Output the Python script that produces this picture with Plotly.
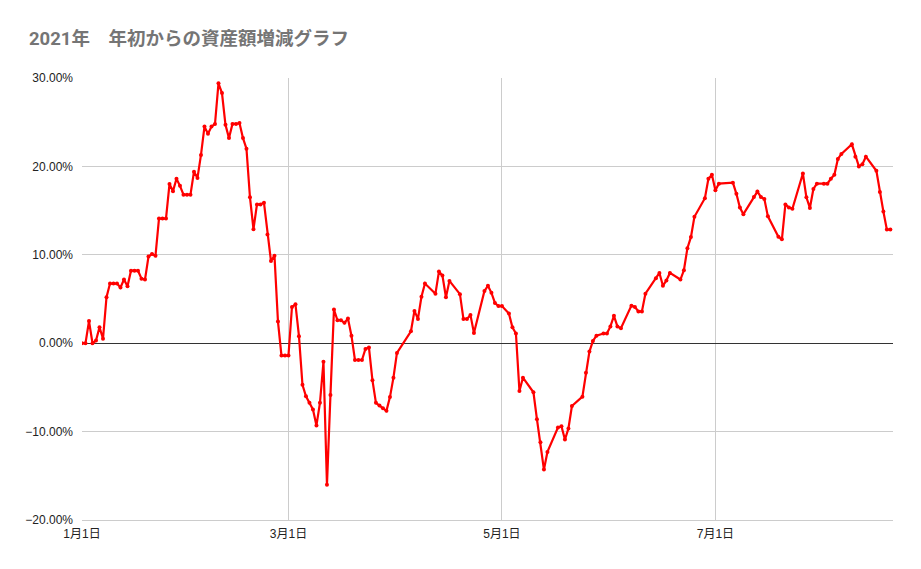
import datetime as dt
import plotly.graph_objects as go

# days counted from 2021-01-01, and the gain/loss (%)
days = [
    0, 1, 2, 3, 4, 5, 6, 7, 8, 9, 10, 11, 12, 13, 14, 15, 16, 17, 18, 19,
    20, 21, 22, 23, 24, 25, 26, 27, 28, 29, 30, 31, 32, 33, 34, 35, 36, 37, 38, 39,
    40, 41, 42, 43, 44, 45, 46, 47, 48, 49, 50, 51, 52, 53, 54, 55, 56, 57, 58, 59,
    60, 61, 62, 63, 64, 65, 66, 67, 68, 69, 70, 71, 72, 73, 74, 75, 76, 77, 78, 79,
    80, 81, 82, 83, 84, 85, 86, 87, 88, 89, 90,
    94, 95, 96, 97, 98, 101, 102, 103, 104, 105, 108, 109, 110, 111, 112,
    115, 116, 117, 118, 119, 120, 122, 123, 124, 125, 126, 129, 130, 131, 132, 133,
    136, 137, 138, 139, 140, 143, 144, 145, 146, 147, 149, 150, 151, 152, 153, 154,
    157, 158, 159, 160, 161, 164, 165, 166, 167, 168, 171, 172, 173, 174, 175,
    178, 179, 180, 181, 182, 186, 187, 188, 189, 192, 193, 194, 195, 196,
    199, 200, 201, 202, 203, 206, 207, 208, 209, 210, 212, 213, 214, 215, 216, 217,
    220, 221, 222, 223, 224, 227, 228, 229, 230, 231,
]
pct = [
    0.0, 0.0, 2.5, 0.0, 0.3, 1.8, 0.5, 5.2, 6.75, 6.75, 6.75, 6.3, 7.2, 6.45, 8.2, 8.2, 8.2, 7.3, 7.2, 9.8,
    10.1, 9.9, 14.1, 14.1, 14.1, 18.0, 17.2, 18.6, 17.8, 16.8, 16.8, 16.8, 19.4, 18.7, 21.3, 24.5, 23.7, 24.5, 24.8, 29.4,
    28.3, 24.7, 23.2, 24.8, 24.8, 24.9, 23.2, 22.0, 16.5, 12.9, 15.7, 15.7, 15.9, 12.3, 9.3, 9.9, 2.45, -1.4, -1.4, -1.4,
    4.1, 4.4, 0.8, -4.7, -6.0, -6.75, -7.5, -9.3, -6.75, -2.1, -16.0, -5.85, 3.8, 2.6, 2.6, 2.3, 2.8, 0.85, -1.9, -1.9,
    -1.9, -0.65, -0.5, -4.2, -6.75, -7.05, -7.35, -7.65, -6.1, -3.9, -1.1,
    1.35, 3.65, 2.75, 5.25, 6.75, 5.6, 8.1, 7.65, 5.2, 7.05, 5.55, 2.75, 2.75, 3.2, 1.15,
    5.9, 6.5, 5.7, 4.55, 4.2, 4.2, 3.35, 1.8, 1.1, -5.4, -3.9, -5.55, -8.6, -11.2, -14.3, -12.3,
    -9.55, -9.4, -10.9, -9.65, -7.1, -6.05, -3.35, -0.95, 0.25, 0.85, 1.1, 1.1, 1.9, 3.1, 1.9, 1.7,
    4.25, 4.1, 3.6, 3.6, 5.6, 7.35, 7.95, 6.5, 7.1, 7.95, 7.2, 8.25, 10.75, 12.0, 14.3,
    16.4, 18.6, 19.05, 17.3, 18.05, 18.15, 16.9, 15.35, 14.6, 16.55, 17.15, 16.55, 16.3, 14.35,
    12.05, 11.75, 15.7, 15.35, 15.2, 19.2, 16.5, 15.3, 17.45, 18.05, 18.05, 18.05, 18.6, 19.05, 20.85, 21.4,
    22.5, 21.1, 20.0, 20.25, 21.1, 19.5, 17.1, 14.9, 12.85, 12.85,
]

tick_dates = ["2021-01-01", "2021-03-01", "2021-05-01", "2021-07-01"]
tick_text = ["1月1日", "3月1日", "5月1日", "7月1日"]

start = dt.date(2021, 1, 1)
dates = [start + dt.timedelta(days=d) for d in days]
y = [v / 100 for v in pct]

fig = go.Figure()
fig.add_trace(go.Scatter(
    x=dates, y=y,
    mode="lines+markers",
    line=dict(color="#ff0000", width=2.2),
    marker=dict(color="#ff0000", size=4),
    hoverinfo="x+y",
))

# the page adds an 8px body offset at top/left
fig.update_layout(
    width=921, height=569,
    margin=dict(l=74, r=36, t=70, b=57),
    paper_bgcolor="white", plot_bgcolor="white",
    showlegend=False,
    font=dict(family="Liberation Sans, Arial, Noto Sans CJK JP", size=12, color="#222222"),
    title=dict(
        text="<b>2021年　年初からの資産額増減グラフ</b>",
        x=0, xref="paper", xanchor="left",
        y=0.947, yanchor="middle",
        pad=dict(l=-53),
        font=dict(family="Roboto, Noto Sans CJK JP", size=18.5, color="#757575"),
    ),
)
fig.update_xaxes(
    range=["2021-01-01", "2021-08-20 18:00"],
    tickvals=tick_dates, ticktext=tick_text,
    showgrid=True, gridcolor="#cccccc", gridwidth=1,
    showline=True, linecolor="#cccccc", mirror=False,
    ticks="", ticklabelstandoff=3,
    zeroline=False,
)
fig.update_yaxes(
    range=[-0.2, 0.3], dtick=0.1, tickformat=".2%",
    showgrid=True, gridcolor="#cccccc", gridwidth=1,
    zeroline=True, zerolinecolor="#333333", zerolinewidth=1,
    ticks="", ticklabelstandoff=8,
)

fig.write_html("out.html")
